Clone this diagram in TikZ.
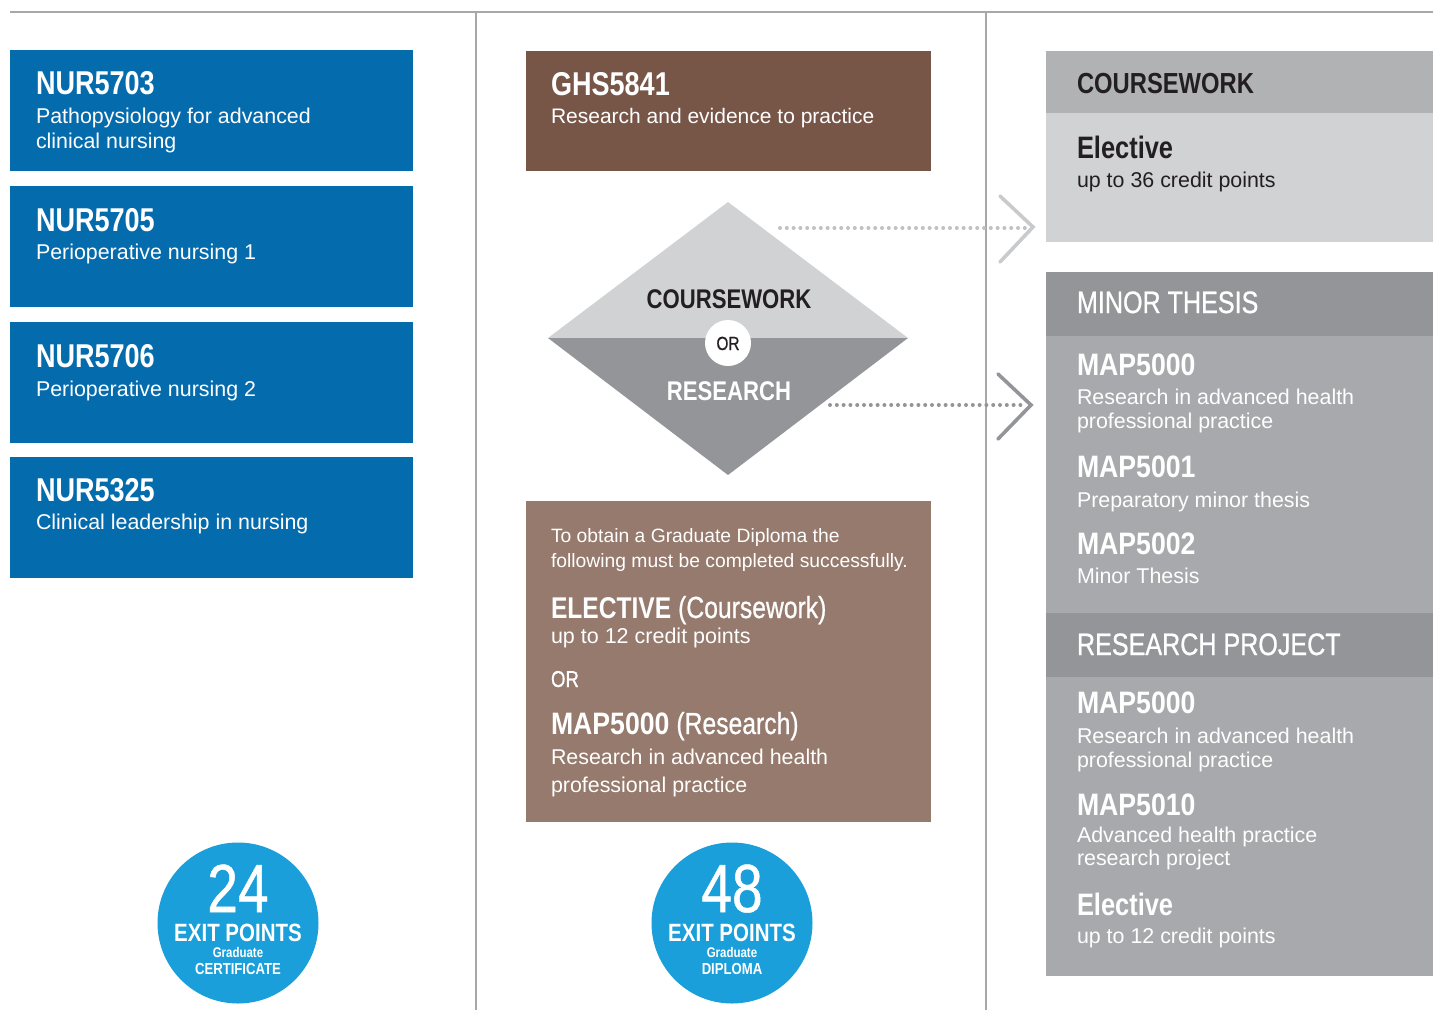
\documentclass[tikz,border=0pt]{standalone}
\usepackage{fontspec}
\setmainfont{Liberation Sans}
\newfontfamily\cnd[FakeStretch=0.82]{Liberation Sans}
\newfontfamily\cndw[FakeStretch=0.86]{Liberation Sans}
\newfontfamily\cndm[FakeStretch=0.81,FakeBold=0.7]{Liberation Sans}
\definecolor{blueBox}{HTML}{046BAD}
\definecolor{brownDark}{HTML}{775648}
\definecolor{brownLight}{HTML}{957A6D}
\definecolor{circBlue}{HTML}{1A9FDA}
\definecolor{grayA}{HTML}{D1D2D4}
\definecolor{grayB}{HTML}{B1B2B4}
\definecolor{grayC}{HTML}{939598}
\definecolor{grayD}{HTML}{A7A9AC}
\definecolor{lineGray}{HTML}{A8A8A8}
\definecolor{darkText}{HTML}{231F20}
\newcommand\fcode{\cnd\bfseries\fontsize{33}{33}\selectfont}
\newcommand\fcodeR{\cnd\bfseries\fontsize{31}{31}\selectfont}
\newcommand\fcodeM{\cndw\bfseries\fontsize{31}{31}\selectfont}
\newcommand\fbody{\fontsize{21.4}{25}\selectfont}
\newcommand\fsmall{\fontsize{19.3}{22}\selectfont}
\newcommand\fhead{\cnd\bfseries\fontsize{29}{29}\selectfont}
\newcommand\fheadR{\cndm\fontsize{31}{31}\selectfont}
\begin{document}
\begin{tikzpicture}[x=1pt,y=-1pt,
  every node/.style={inner sep=0pt,outer sep=0pt},
  tl/.style={anchor=base west},
  tc/.style={anchor=base},
  panel/.style={anchor=north west,draw=none},
  rule/.style={draw=lineGray,line width=1.3pt},
  dotsA/.style={draw=grayA!92!black,line width=4pt,line cap=round,dash pattern=on 0pt off 6.8pt},
  dotsB/.style={draw=grayC,line width=4pt,line cap=round,dash pattern=on 0pt off 6.8pt},
  chevA/.style={draw=grayA!96!black,line width=3.6pt,line cap=round,line join=miter},
  chevB/.style={draw=grayC,line width=3.6pt,line cap=round,line join=miter},
  wt/.style={text=white},
  dk/.style={text=darkText}]
\useasboundingbox (0,0) rectangle (1433,1010);
% rules
\coordinate (ruleL) at (10,12);
\coordinate (ruleR) at (1433,12);
\coordinate (v1t) at (476,12);
\coordinate (v1b) at (476,1010);
\coordinate (v2t) at (986,12);
\coordinate (v2b) at (986,1010);
\draw[rule] (ruleL) -- (ruleR);
\draw[rule] (v1t) -- (v1b);
\draw[rule] (v2t) -- (v2b);

% left column boxes
\node[panel,fill=blueBox,minimum width=403pt,minimum height=121pt] (b1) at (10,50) {};
\node[panel,fill=blueBox,minimum width=403pt,minimum height=121pt] (b2) at (10,186) {};
\node[panel,fill=blueBox,minimum width=403pt,minimum height=121pt] (b3) at (10,322) {};
\node[panel,fill=blueBox,minimum width=403pt,minimum height=121pt] (b4) at (10,457) {};
\node[tl,wt,font=\fcode] (t1a) at (36,94) {NUR5703};
\node[tl,wt,font=\fbody] (t1b) at (36,123) {Pathopysiology for advanced};
\node[tl,wt,font=\fbody] (t1c) at (36,148) {clinical nursing};
\node[tl,wt,font=\fcode] (t2a) at (36,231) {NUR5705};
\node[tl,wt,font=\fbody] (t2b) at (36,259) {Perioperative nursing 1};
\node[tl,wt,font=\fcode] (t3a) at (36,367) {NUR5706};
\node[tl,wt,font=\fbody] (t3b) at (36,396) {Perioperative nursing 2};
\node[tl,wt,font=\fcode] (t4a) at (36,501) {NUR5325};
\node[tl,wt,font=\fbody] (t4b) at (36,529) {Clinical leadership in nursing};

% middle column
\node[panel,fill=brownDark,minimum width=405pt,minimum height=120pt] (ghs) at (526,51) {};
\node[tl,wt,font=\fcode] (ghsa) at (551,95) {GHS5841};
\node[tl,wt,font={\fontsize{21}{25}\selectfont}] (ghsb) at (551,123) {Research and evidence to practice};

% diamond
\coordinate (dT) at (728,202);
\coordinate (dL) at (548,338);
\coordinate (dR) at (908,338);
\coordinate (dB) at (728,475);
\fill[grayA] (dL) -- (dT) -- (dR) -- cycle;
\fill[grayC] (dL) -- (dB) -- (dR) -- cycle;
\node[tc,dk,font={\cnd\bfseries\fontsize{27}{27}\selectfont}] (dcw) at (729,308) {COURSEWORK};
\node[tc,wt,font={\cnd\bfseries\fontsize{27}{27}\selectfont}] (dre) at (729,400) {RESEARCH};
\node[circle,fill=white,minimum size=46pt] (orc) at (728,343) {};
\node[tc,dk,font={\cndm\fontsize{19}{19}\selectfont}] (ort) at (728,350) {OR};

% dotted connectors and chevrons
\coordinate (d1s) at (780,228);
\coordinate (d1e) at (1025,228);
\coordinate (d2s) at (830,405);
\coordinate (d2e) at (1023,405);
\draw[dotsA] (d1s) -- (d1e);
\draw[dotsB] (d2s) -- (d2e);
\coordinate (c1a) at (1000,196);
\coordinate (c1b) at (1033,227);
\coordinate (c1c) at (1000,262);
\coordinate (c2a) at (998,374);
\coordinate (c2b) at (1031,405);
\coordinate (c2c) at (998,439);
\draw[chevA] (c1a) -- (c1b) -- (c1c);
\draw[chevB] (c2a) -- (c2b) -- (c2c);

% graduate diploma box
\node[panel,fill=brownLight,minimum width=405pt,minimum height=321pt] (gd) at (526,501) {};
\node[tl,wt,font=\fsmall] (gd1) at (551,542) {To obtain a Graduate Diploma the};
\node[tl,wt,font=\fsmall] (gd2) at (551,567) {following must be completed successfully.};
\node[tl,wt,font={\cndm\fontsize{30.5}{30}\selectfont}] (gd3) at (551,618) {{\cnd\bfseries\fontsize{30}{30}\selectfont ELECTIVE} (Coursework)};
\node[tl,wt,font={\fontsize{21.5}{24}\selectfont}] (gd4) at (551,643) {up to 12 credit points};
\node[tl,wt,font={\cndm\fontsize{23}{23}\selectfont}] (gd5) at (551,687) {OR};
\node[tl,wt,font={\cndm\fontsize{30.5}{30}\selectfont}] (gd6) at (551,734) {{\fcodeM MAP5000} (Research)};
\node[tl,wt,font=\fbody] (gd7) at (551,764) {Research in advanced health};
\node[tl,wt,font=\fbody] (gd8) at (551,792) {professional practice};

% exit point circles
\node[circle,fill=circBlue,minimum size=161pt] (c24) at (238,923) {};
\node[tc,wt,font={\cndm\fontsize{68}{68}\selectfont}] (c24a) at (238,912) {24};
\node[tc,wt,font={\cnd\bfseries\fontsize{25}{25}\selectfont}] (c24b) at (238,941) {EXIT POINTS};
\node[tc,wt,font={\cnd\bfseries\fontsize{14}{14}\selectfont}] (c24c) at (238,957) {Graduate};
\node[tc,wt,font={\cnd\bfseries\fontsize{16}{16}\selectfont}] (c24d) at (238,974) {CERTIFICATE};
\node[circle,fill=circBlue,minimum size=161pt] (c48) at (732,923) {};
\node[tc,wt,font={\cndm\fontsize{68}{68}\selectfont}] (c48a) at (732,912) {48};
\node[tc,wt,font={\cnd\bfseries\fontsize{25}{25}\selectfont}] (c48b) at (732,941) {EXIT POINTS};
\node[tc,wt,font={\cnd\bfseries\fontsize{14}{14}\selectfont}] (c48c) at (732,957) {Graduate};
\node[tc,wt,font={\cnd\bfseries\fontsize{16}{16}\selectfont}] (c48d) at (732,974) {DIPLOMA};

% right column
\node[panel,fill=grayB,minimum width=387pt,minimum height=62pt] (cwh) at (1046,51) {};
\node[panel,fill=grayA,minimum width=387pt,minimum height=129pt] (cwb) at (1046,113) {};
\node[panel,fill=grayC,minimum width=387pt,minimum height=64pt] (mth) at (1046,272) {};
\node[panel,fill=grayD,minimum width=387pt,minimum height=277pt] (mtb) at (1046,336) {};
\node[panel,fill=grayC,minimum width=387pt,minimum height=64pt] (rph) at (1046,613) {};
\node[panel,fill=grayD,minimum width=387pt,minimum height=299pt] (rpb) at (1046,677) {};

\node[tl,dk,font=\fhead] (r1) at (1077,93) {COURSEWORK};
\node[tl,dk,font=\fcodeR] (r2) at (1077,158) {Elective};
\node[tl,dk,font=\fbody] (r3) at (1077,187) {up to 36 credit points};

\node[tl,wt,font=\fheadR] (r4) at (1077,313) {MINOR THESIS};
\node[tl,wt,font=\fcodeM] (r5) at (1077,375) {MAP5000};
\node[tl,wt,font=\fbody] (r6) at (1077,404) {Research in advanced health};
\node[tl,wt,font=\fbody] (r7) at (1077,428) {professional practice};
\node[tl,wt,font=\fcodeM] (r8) at (1077,477) {MAP5001};
\node[tl,wt,font=\fbody] (r9) at (1077,507) {Preparatory minor thesis};
\node[tl,wt,font=\fcodeM] (r10) at (1077,554) {MAP5002};
\node[tl,wt,font=\fbody] (r11) at (1077,583) {Minor Thesis};

\node[tl,wt,font=\fheadR] (r12) at (1077,655) {RESEARCH PROJECT};
\node[tl,wt,font=\fcodeM] (r13) at (1077,713) {MAP5000};
\node[tl,wt,font=\fbody] (r14) at (1077,743) {Research in advanced health};
\node[tl,wt,font=\fbody] (r15) at (1077,767) {professional practice};
\node[tl,wt,font=\fcodeM] (r16) at (1077,815) {MAP5010};
\node[tl,wt,font=\fbody] (r17) at (1077,842) {Advanced health practice};
\node[tl,wt,font=\fbody] (r18) at (1077,865) {research project};
\node[tl,wt,font=\fcodeR] (r19) at (1077,915) {Elective};
\node[tl,wt,font=\fbody] (r20) at (1077,943) {up to 12 credit points};
\end{tikzpicture}
\end{document}
